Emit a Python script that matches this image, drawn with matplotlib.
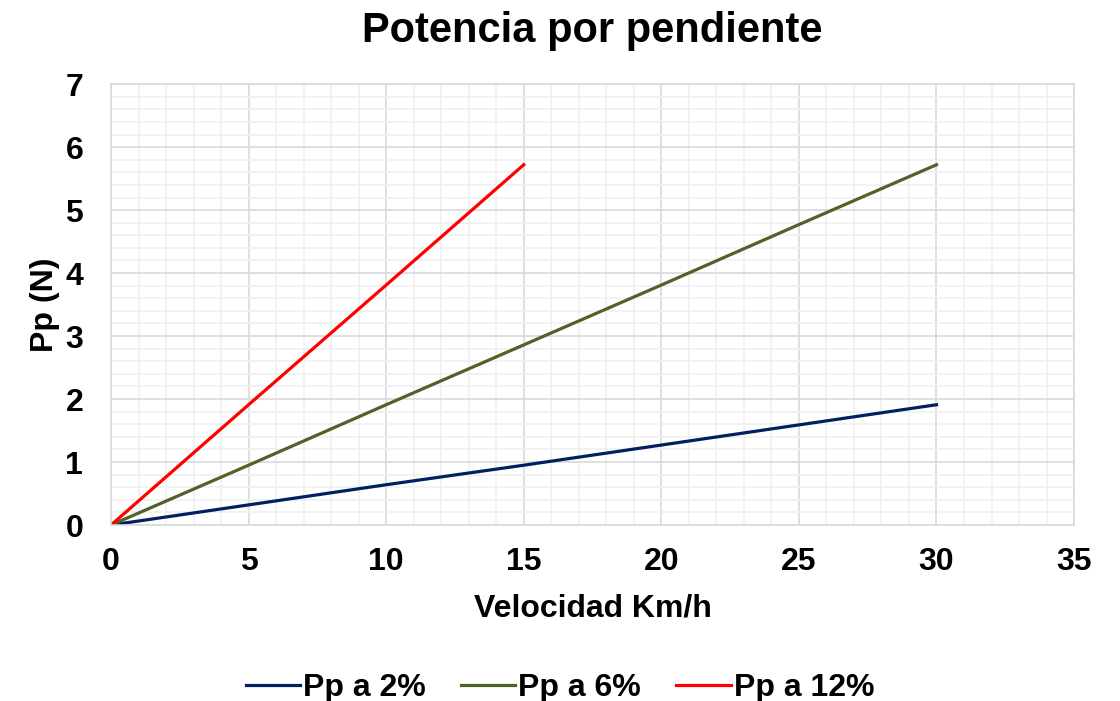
import matplotlib
matplotlib.use('Agg')

import matplotlib.pyplot as plt
from matplotlib.ticker import MultipleLocator

plt.rcParams['font.family'] = ['Liberation Sans', 'DejaVu Sans']

# data
vel_30 = [0, 5, 10, 15, 20, 25, 30]
pp_2 = [0, 0.32, 0.64, 0.95, 1.27, 1.59, 1.91]
pp_6 = [0, 0.95, 1.91, 2.86, 3.81, 4.77, 5.72]
vel_15 = [0, 5, 10, 15]
pp_12 = [0, 1.91, 3.81, 5.72]

fig = plt.figure(figsize=(11.2, 7.01), dpi=100)
ax = fig.add_axes([0.0991, 0.251, 0.8599, 0.629])

ax.plot(vel_30, pp_2, color='#002060', lw=2.3, label='Pp a 2%')
ax.plot(vel_30, pp_6, color='#4f6228', lw=2.3, label='Pp a 6%')
ax.plot(vel_15, pp_12, color='#ff0000', lw=2.3, label='Pp a 12%')

ax.set_xlim(0, 35)
ax.set_ylim(0, 7)
ax.xaxis.set_major_locator(MultipleLocator(5))
ax.xaxis.set_minor_locator(MultipleLocator(1))
ax.yaxis.set_major_locator(MultipleLocator(1))
ax.yaxis.set_minor_locator(MultipleLocator(0.2))

# grid
ax.grid(which='major', color='#d9d9d9', lw=1.2)
ax.grid(which='minor', color='#f0f0f0', lw=1.2)
ax.set_axisbelow(True)
for s in ax.spines.values():
    s.set_color('#d9d9d9')
    s.set_linewidth(1.2)
ax.tick_params(which='both', length=0, labelsize=23)
ax.tick_params(axis='x', pad=16)
ax.tick_params(axis='y', pad=20)
for lbl in ax.get_xticklabels() + ax.get_yticklabels():
    lbl.set_fontweight('bold')

# titles
ax.set_title('Potencia por pendiente', fontsize=30, fontweight='bold', pad=30)
ax.set_xlabel('Velocidad Km/h', fontsize=23, fontweight='bold', labelpad=12)
ax.set_ylabel('Pp (N)', fontsize=23, fontweight='bold', labelpad=4)

fig.legend(loc='center', bbox_to_anchor=(0.5, 0.019), ncol=3, frameon=False,
           prop={'size': 23, 'weight': 'bold'}, handlelength=1.7,
           handletextpad=0.1, columnspacing=1.1)

plt.savefig('out.png', dpi=100)
